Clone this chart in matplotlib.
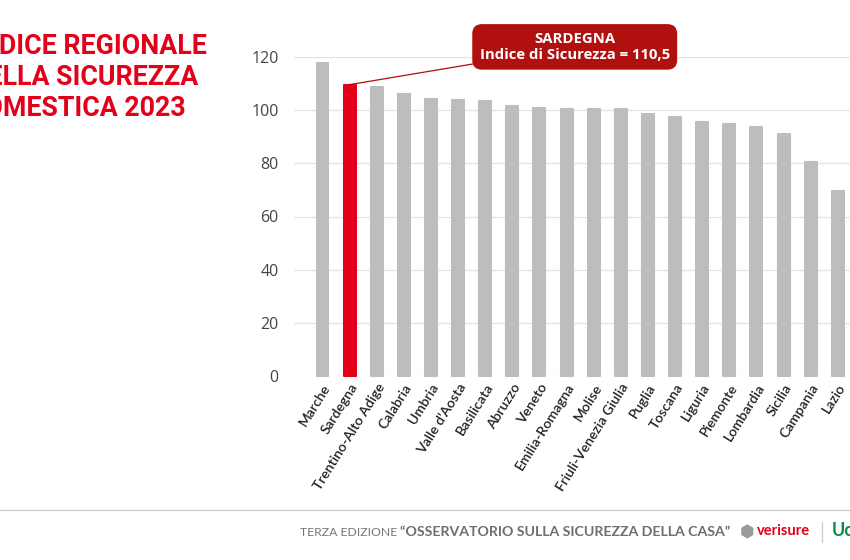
import matplotlib
matplotlib.use("Agg")
import matplotlib.pyplot as plt
from matplotlib.lines import Line2D

# dati
regioni = ["Marche", "Sardegna", "Trentino-Alto Adige", "Calabria", "Umbria",
           "Valle d'Aosta", "Basilicata", "Abruzzo", "Veneto", "Emilia-Romagna",
           "Molise", "Friuli-Venezia Giulia", "Puglia", "Toscana", "Liguria",
           "Piemonte", "Lombardia", "Sicilia", "Campania", "Lazio"]
indice = [117.9, 109.6, 108.8, 106.0, 104.2, 103.9, 103.4, 101.6, 100.9, 100.6,
          100.4, 100.3, 98.6, 97.6, 95.7, 94.8, 93.5, 91.1, 80.4, 69.7]
evidenza = "Sardegna"
yticks = [0, 20, 40, 60, 80, 100, 120]

ROSSO = "#e2001a"
GRIGIO = "#bdbdbd"

fig = plt.figure(figsize=(8.5, 5.6), dpi=100)
ax = fig.add_axes([294 / 850, 1 - 376 / 560, 1 - 294 / 850, (376 - 57) / 560])

colori = [ROSSO if r == evidenza else GRIGIO for r in regioni]
x = list(range(len(regioni)))
ax.bar(x, indice, width=0.44, color=colori, edgecolor=colori, linewidth=1.5,
       joinstyle="round", zorder=3, clip_on=False)

ax.set_ylim(0, 120)
ax.set_xlim(-1.05, len(regioni) - 0.55)
ax.set_yticks(yticks)
ax.set_yticklabels([str(v) for v in yticks], fontsize=11.5, color="#444444",
                   family=["Open Sans", "DejaVu Sans"])
ax.grid(axis="y", color="#e3e3e3", linewidth=0.9, zorder=0)
ax.tick_params(axis="y", length=0, pad=11)
ax.tick_params(axis="x", length=0, pad=4)
for s in ax.spines.values():
    s.set_visible(False)

ax.set_xticks(x)
ax.set_xticklabels(regioni, rotation=58, ha="right", va="top",
                   rotation_mode="anchor", fontsize=10, color="#222222",
                   fontweight="semibold", family=["Lato", "DejaVu Sans"])

# annotazione
i = regioni.index(evidenza)
ax.annotate("SARDEGNA\nIndice di Sicurezza = 110,5",
            xy=(i, indice[i]), xytext=(9.3, 123.8),
            ha="center", va="center", color="white", fontsize=10.7,
            fontweight="bold", family=["Open Sans", "DejaVu Sans"],
            linespacing=1.25, annotation_clip=False,
            bbox=dict(boxstyle="round,pad=0.45,rounding_size=0.6",
                      fc="#b0100e", ec="#b0100e"),
            arrowprops=dict(arrowstyle="-", color="#b0100e", lw=0.9,
                            shrinkA=0, shrinkB=0))

# titolo (tagliato a sinistra come nell'originale)
titolo = ["INDICE REGIONALE", "DELLA SICUREZZA", "DOMESTICA 2023"]
fine_riga = [207, 198, 186]
for k, riga in enumerate(titolo):
    fig.text(fine_riga[k] / 850, 1 - (46 + 31.5 * k) / 560, riga,
             ha="right", va="center", fontsize=19.3, fontweight="bold",
             color=ROSSO, family=["Roboto", "DejaVu Sans"])

# piè di pagina
fig.add_artist(Line2D([0, 1], [1 - 510 / 560] * 2, color="#cccccc", lw=0.9))
fig.text(300 / 850, 1 - 532 / 560, "TERZA EDIZIONE", ha="left", va="center",
         fontsize=8.8, color="#777777", family=["Lato", "DejaVu Sans"])
fig.text(400 / 850, 1 - 532 / 560,
         "\u201cOSSERVATORIO SULLA SICUREZZA DELLA CASA\u201d",
         ha="left", va="center", fontsize=10.2, color="#6e6e6e",
         fontweight="bold", family=["Lato", "DejaVu Sans"])
fig.text(747 / 850, 1 - 532 / 560, "\u2B22", ha="center", va="center",
         fontsize=12, color="#9a9a9a", family=["DejaVu Sans"])
fig.text(757 / 850, 1 - 531 / 560, "verisure", ha="left", va="center",
         fontsize=10.5, color=ROSSO, fontweight="bold",
         family=["Lato", "DejaVu Sans"])
fig.add_artist(Line2D([822 / 850] * 2, [1 - 522 / 560, 1 - 542 / 560],
                      color="#cccccc", lw=0.9))
fig.text(832 / 850, 1 - 531 / 560, "Uc", ha="left", va="center",
         fontsize=13, color="#0a8a4a", fontweight="bold",
         family=["Lato", "DejaVu Sans"])

fig.savefig("out.png", dpi=100)
